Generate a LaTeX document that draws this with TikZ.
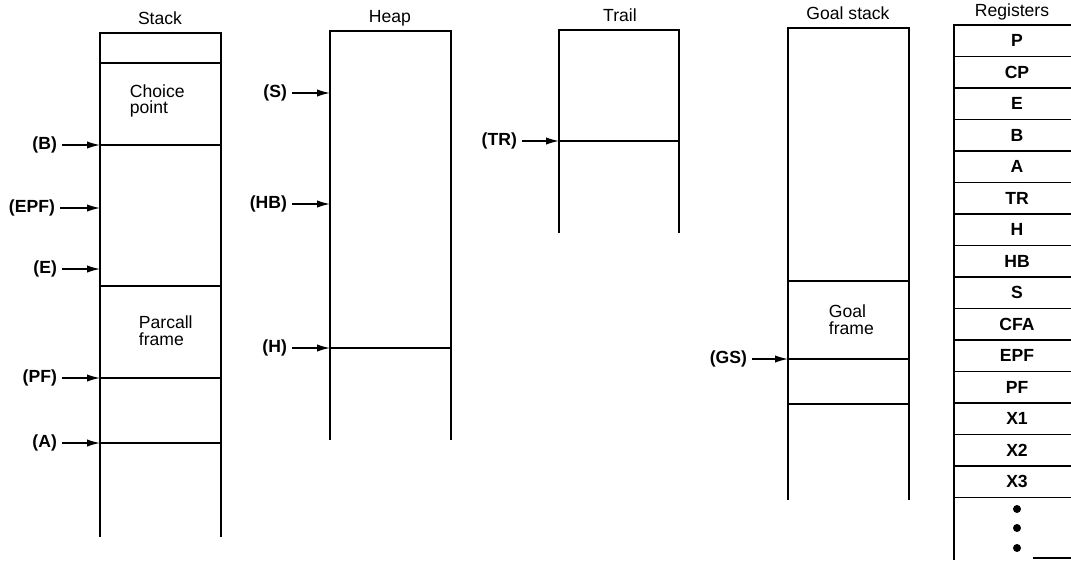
\documentclass[tikz,border=0pt]{standalone}
\usepackage{fontspec}
\setmainfont{Liberation Sans}
\usetikzlibrary{arrows.meta}

\begin{document}
\begin{tikzpicture}[x=0.025cm, y=-0.025cm, line width=1.3pt]

      \tikzstyle{Title}=[font=\fontsize{12.5}{13}\selectfont];
      \tikzstyle{Lbl}=[font=\fontsize{12.5}{13}\selectfont\bfseries, inner sep=3pt];
      \tikzstyle{Txt}=[font=\fontsize{12.5}{12}\selectfont, align=left, anchor=west, inner sep=0pt];
      \tikzstyle{Ptr}=[-{Latex[length=3.2mm,width=1.8mm]}, line width=0.9pt];
      \tikzstyle{Reg}=[rectangle, draw, line width=1.3pt, minimum width=3.15cm,
                       minimum height=0.7875cm, font=\fontsize{12.5}{13}\selectfont\bfseries];

        \useasboundingbox (0,0) rectangle (1071,560);
        \clip (0,0) rectangle (1071,560);

        % Stack
        \node[Title](TStack) at (160,18) {Stack};
        \draw (100,537) -- (100,33) -- (221,33) -- (221,537);
        \draw (100,63) -- (221,63);
        \draw (100,145) -- (221,145);
        \draw (100,286) -- (221,286);
        \draw (100,378) -- (221,378);
        \draw (100,443) -- (221,443);
        \node[Txt](Choice) at (129,101) {Choice\\point};
        \node[Txt](Parcall) at (138,331) {Parcall\\frame};

        \coordinate (StkB) at (100,145);
        \coordinate (StkEPF) at (100,208);
        \coordinate (StkE) at (100,269);
        \coordinate (StkPF) at (100,378);
        \coordinate (StkA) at (100,443);
        \node[Lbl, anchor=east](PtrB) at (62,145) {(B)};
        \node[Lbl, anchor=east](PtrEPF) at (60,208) {(EPF)};
        \node[Lbl, anchor=east](PtrE) at (62,269) {(E)};
        \node[Lbl, anchor=east](PtrPF) at (62,378) {(PF)};
        \node[Lbl, anchor=east](PtrA) at (62,443) {(A)};
        \draw[Ptr] (PtrB) -- (StkB);
        \draw[Ptr] (PtrEPF) -- (StkEPF);
        \draw[Ptr] (PtrE) -- (StkE);
        \draw[Ptr] (PtrPF) -- (StkPF);
        \draw[Ptr] (PtrA) -- (StkA);

        % Heap
        \node[Title](THeap) at (390,18) {Heap};
        \draw (330,440) -- (330,31) -- (451,31) -- (451,440);
        \draw (330,348) -- (451,348);
        \coordinate (HeapS) at (330,93);
        \coordinate (HeapHB) at (330,204);
        \coordinate (HeapH) at (330,348);
        \node[Lbl, anchor=east](PtrS) at (292,93) {(S)};
        \node[Lbl, anchor=east](PtrHB) at (292,204) {(HB)};
        \node[Lbl, anchor=east](PtrH) at (292,348) {(H)};
        \draw[Ptr] (PtrS) -- (HeapS);
        \draw[Ptr] (PtrHB) -- (HeapHB);
        \draw[Ptr] (PtrH) -- (HeapH);

        % Trail
        \node[Title](TTrail) at (620,15) {Trail};
        \draw (559,233) -- (559,30) -- (679,30) -- (679,233);
        \draw (559,141) -- (679,141);
        \coordinate (TrailTR) at (559,141);
        \node[Lbl, anchor=east](PtrTR) at (522,141) {(TR)};
        \draw[Ptr] (PtrTR) -- (TrailTR);

        % Goal stack
        \node[Title](TGoal) at (848,13) {Goal stack};
        \draw (788,500) -- (788,28) -- (909,28) -- (909,500);
        \draw (788,281) -- (909,281);
        \draw (788,359) -- (909,359);
        \draw (788,404) -- (909,404);
        \node[Txt](GoalFr) at (828,320) {Goal\\frame};
        \coordinate (GoalGS) at (788,359);
        \node[Lbl, anchor=east](PtrGS) at (752,359) {(GS)};
        \draw[Ptr] (PtrGS) -- (GoalGS);

        % Registers
        \node[Title](TRegs) at (1012,12) {Registers};
        \node[Reg](RegP) at (1017,40.75) {P};
        \node[Reg](RegCP) at (1017,72.25) {CP};
        \node[Reg](RegE) at (1017,103.75) {E};
        \node[Reg](RegB) at (1017,135.25) {B};
        \node[Reg](RegA) at (1017,166.75) {A};
        \node[Reg](RegTR) at (1017,198.25) {TR};
        \node[Reg](RegH) at (1017,229.75) {H};
        \node[Reg](RegHB) at (1017,261.25) {HB};
        \node[Reg](RegS) at (1017,292.75) {S};
        \node[Reg](RegCFA) at (1017,324.25) {CFA};
        \node[Reg](RegEPF) at (1017,355.75) {EPF};
        \node[Reg](RegPF) at (1017,387.25) {PF};
        \node[Reg](RegXa) at (1017,418.75) {X1};
        \node[Reg](RegXb) at (1017,450.25) {X2};
        \node[Reg](RegXc) at (1017,481.75) {X3};
        \draw (954,498) -- (954,560);
        \draw (1033,558) -- (1080,558);
        \fill (1017,509) circle (4);
        \fill (1017,528) circle (4);
        \fill (1017,548) circle (4);

    \end{tikzpicture}
\end{document}
